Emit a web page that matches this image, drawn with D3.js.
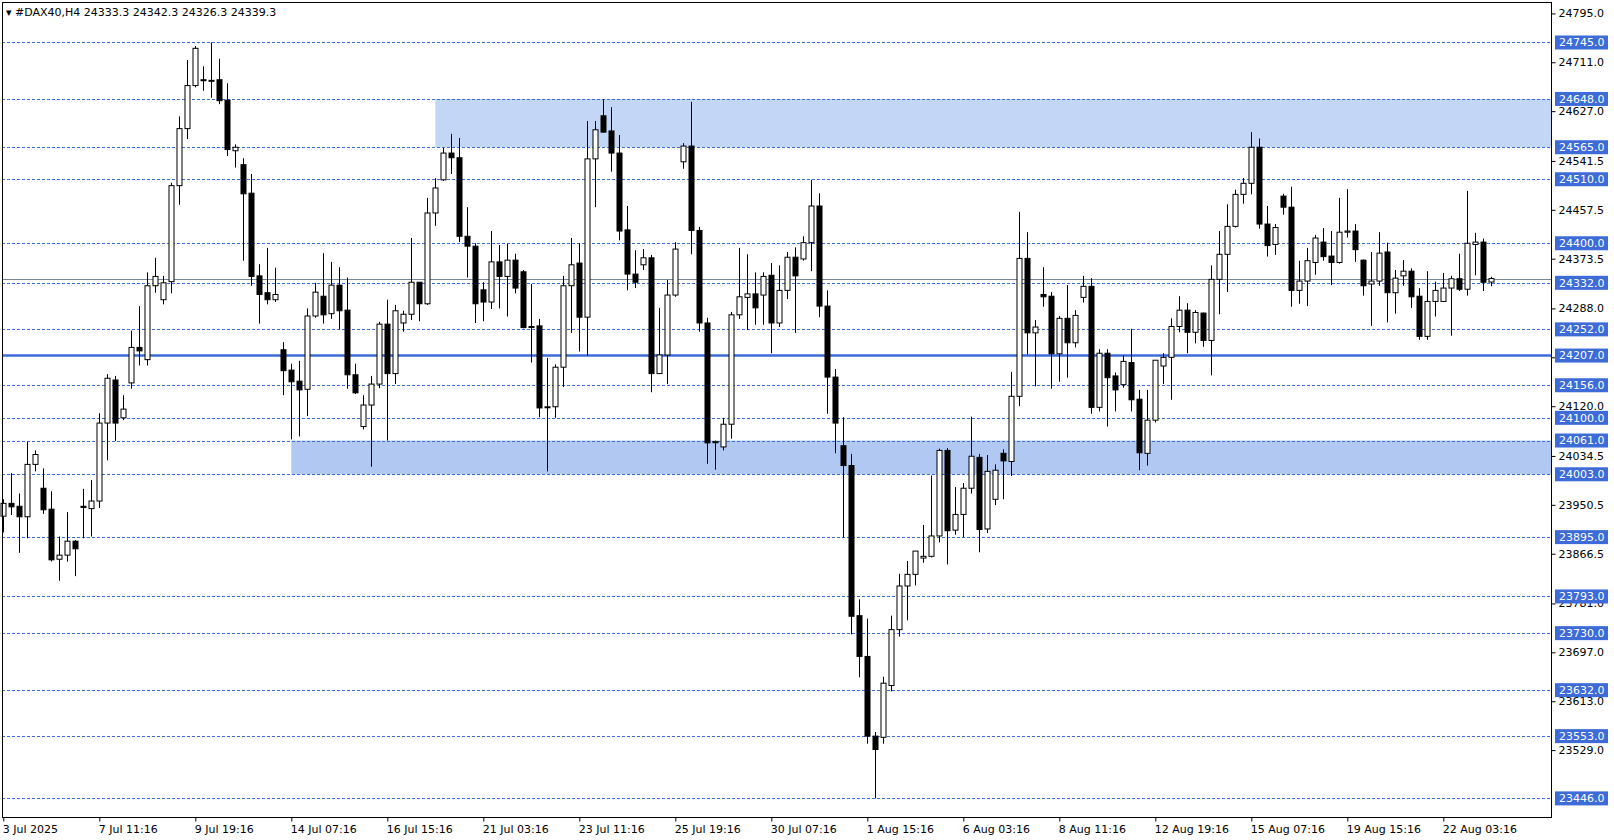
<!DOCTYPE html>
<html>
<head>
<meta charset="utf-8">
<script src="https://cdn.jsdelivr.net/npm/d3@7"></script>
<style>
  body { margin: 0; background: #fff; }
  text { font-family: "DejaVu Sans", sans-serif; font-size: 11px; }
</style>
</head>
<body>
<div id="chart"></div>
<script>
// DAX40 H4 candles (approx)
const opens = [23931,23953,23948,23930,24020,23979,23943,23857,23864,23888,23948,23944,23957,24091,24165,24100,24160,24221,24200,24327,
  24303,24334,24499,24597,24671,24681,24680,24681,24646,24559,24535,24486,24344,24315,24303,24217,24182,24163,24149,24275,
  24309,24279,24328,24285,24174,24085,24122,24158,24261,24176,24263,24278,24333,24296,24452,24509,24555,24547,24412,24395,
  24320,24299,24368,24343,24371,24351,24256,24258,24118,24119,24187,24327,24366,24273,24545,24619,24593,24555,24423,24347,
  24363,24375,24176,24208,24311,24540,24567,24422,24263,24058,24050,24089,24277,24307,24313,24311,24345,24263,24319,24376,
  24373,24401,24464,24292,24170,24052,24018,23760,23690,23553,23551,23640,23736,23811,23831,23859,23862,23897,24044,23907,
  23934,23979,24032,23909,23960,24039,24025,24137,24374,24246,24312,24309,24210,24271,24229,24307,24326,24118,24211,24172,
  24157,24195,24132,24039,24096,24189,24204,24257,24285,24247,24280,24233,24338,24381,24429,24484,24503,24565,24433,24398,
  24481,24462,24319,24335,24367,24402,24378,24367,24419,24421,24371,24330,24335,24385,24315,24344,24352,24309,24240,24300,
  24300,24323,24339,24321,24398,24402,24333.3];
const highs = [23960,24005,23970,24059,24044,24013,23974,23896,23938,23890,23978,23993,24108,24175,24172,24139,24250,24292,24350,24375,
  24344,24504,24618,24715,24739,24704,24745,24717,24675,24570,24546,24519,24364,24392,24358,24230,24193,24198,24288,24332,
  24383,24368,24359,24341,24193,24139,24172,24265,24303,24294,24284,24409,24333,24478,24512,24564,24588,24581,24462,24400,
  24333,24421,24397,24399,24382,24354,24330,24270,24203,24192,24344,24409,24400,24610,24610,24648,24634,24586,24464,24388,
  24390,24380,24289,24337,24402,24572,24643,24428,24272,24061,24100,24282,24392,24381,24350,24350,24366,24362,24385,24393,
  24412,24509,24486,24319,24184,24101,24038,23788,23755,23560,23655,23760,23832,23854,23871,23916,24001,24047,24048,23981,
  23988,24102,24038,24036,24020,24046,24179,24454,24419,24268,24359,24316,24275,24328,24285,24344,24340,24218,24218,24178,
  24207,24253,24148,24148,24199,24211,24271,24309,24297,24285,24281,24362,24421,24467,24492,24512,24591,24580,24464,24433,
  24485,24497,24370,24392,24414,24426,24421,24478,24493,24433,24372,24385,24419,24401,24354,24371,24357,24323,24352,24334,
  24349,24344,24382,24490,24418,24408,24342.3];
const lows = [23903,23933,23868,23893,24008,23935,23853,23820,23853,23828,23893,23896,23945,24027,24060,24096,24150,24190,24190,24315,
  24295,24314,24466,24579,24668,24662,24650,24639,24550,24530,24370,24327,24262,24295,24299,24139,24063,24068,24103,24272,
  24262,24270,24252,24150,24141,24080,24016,24151,24061,24158,24248,24268,24266,24294,24430,24507,24519,24402,24341,24263,
  24266,24287,24288,24274,24314,24254,24195,24101,24008,24100,24153,24246,24214,24207,24462,24590,24523,24405,24319,24323,
  24354,24144,24176,24158,24308,24528,24381,24248,24021,24011,24044,24064,24270,24251,24260,24260,24211,24256,24304,24246,
  24370,24352,24273,24107,24039,23894,23728,23654,23540,23446,23540,23630,23724,23752,23812,23851,23860,23886,23848,23899,
  23895,23970,23869,23902,23950,23960,24000,24120,24209,24154,24291,24150,24162,24169,24221,24298,24107,24111,24085,24111,
  24152,24111,24010,24018,24092,24158,24131,24247,24211,24228,24222,24173,24278,24316,24427,24468,24484,24425,24377,24380,
  24449,24291,24296,24292,24346,24370,24328,24365,24410,24368,24310,24258,24327,24264,24279,24327,24289,24234,24234,24274,
  24299,24241,24318,24310,24345,24318,24326.3];
const closes = [23953,23947,23930,24020,24037,23942,23856,23864,23888,23875,23946,23957,24091,24168,24091,24115,24221,24215,24327,24343,
  24332,24499,24597,24671,24735,24680,24680,24645,24561,24565,24485,24343,24312,24303,24312,24181,24162,24148,24275,24316,
  24277,24328,24284,24174,24143,24122,24158,24261,24176,24284,24278,24333,24296,24452,24495,24555,24547,24412,24395,24296,
  24299,24368,24343,24371,24323,24255,24257,24117,24119,24187,24327,24363,24273,24545,24595,24591,24555,24421,24347,24333,
  24375,24176,24208,24311,24390,24567,24422,24263,24057,24059,24089,24277,24308,24313,24289,24343,24263,24319,24376,24344,
  24401,24464,24292,24170,24091,24018,23759,23690,23553,23530,23644,23736,23811,23831,23871,23862,23897,24044,23906,23934,
  23979,24034,23908,24008,24010,24026,24137,24374,24246,24256,24308,24210,24271,24229,24276,24326,24118,24211,24169,24148,
  24197,24131,24040,24096,24199,24204,24257,24285,24247,24281,24233,24338,24381,24429,24484,24503,24565,24433,24396,24427,
  24462,24319,24335,24370,24409,24377,24367,24419,24421,24389,24327,24335,24383,24315,24340,24352,24308,24240,24300,24319,
  24323,24339,24321,24400,24402,24333,24339.3];

// horizontal levels drawn on the chart
const levels = [24745,24648,24565,24510,24400,24332,24252,24156,24100,24061,24003,23895,23793,23730,23632,23553,23446];
const mainLevel = 24207;
const zones = [{from: 24565, to: 24648, start: 54, color: "#c3d6f5"}, {from: 24003, to: 24061, start: 36, color: "#b0c8f2"}];
const axisTicks = [24795,24711,24627,24541.5,24457.5,24373.5,24288,24204,24120,24034.5,23950.5,23866.5,23781,23697,23613,23529];
const dateLabels = ["3 Jul 2025","7 Jul 11:16","9 Jul 19:16","14 Jul 07:16","16 Jul 15:16","21 Jul 03:16","23 Jul 11:16",
  "25 Jul 19:16","30 Jul 07:16","1 Aug 15:16","6 Aug 03:16","8 Aug 11:16","12 Aug 19:16","15 Aug 07:16","19 Aug 15:16","22 Aug 03:16"];
const lastPrice = 24339.3;

const width = 1614, height = 840;
const plot = {left: 2, right: 1551, top: 2, bottom: 817};
const blue = "#3d6bd8";

const svg = d3.select("#chart").append("svg").attr("width", width).attr("height", height);

const y = d3.scaleLinear().domain([23446, 24795]).range([798.4, 13.4]);
const x = d3.scaleLinear().domain([0, 186]).range([3.3, 1491.3]);

// zones
svg.selectAll(".zone").data(zones).enter().append("rect")
  .attr("x", d => x(d.start)).attr("width", d => plot.right - x(d.start))
  .attr("y", d => y(d.to)).attr("height", d => y(d.from) - y(d.to))
  .attr("fill", d => d.color);

// dashed levels
svg.selectAll(".lvl").data(levels).enter().append("line")
  .attr("x1", plot.left).attr("x2", plot.right)
  .attr("y1", d => Math.round(y(d)) + 0.5).attr("y2", d => Math.round(y(d)) + 0.5)
  .attr("stroke", blue).attr("stroke-dasharray", "3,2");

svg.append("line").attr("x1", plot.left).attr("x2", plot.right)
  .attr("y1", y(mainLevel)).attr("y2", y(mainLevel))
  .attr("stroke", blue).attr("stroke-width", 2.5);

svg.append("line").attr("x1", plot.left).attr("x2", plot.right)
  .attr("y1", Math.round(y(lastPrice)) + 0.5).attr("y2", Math.round(y(lastPrice)) + 0.5)
  .attr("stroke", "#778899");

// candles
const idx = d3.range(opens.length);
svg.selectAll(".wick").data(idx).enter().append("line")
  .attr("x1", i => Math.round(x(i)) + 0.5).attr("x2", i => Math.round(x(i)) + 0.5)
  .attr("y1", i => y(highs[i])).attr("y2", i => y(lows[i]))
  .attr("stroke", "#000");
svg.selectAll(".body").data(idx).enter().append("rect")
  .attr("x", i => Math.round(x(i)) - 2)
  .attr("width", 5)
  .attr("y", i => y(Math.max(opens[i], closes[i])))
  .attr("height", i => Math.max(1, Math.abs(y(opens[i]) - y(closes[i]))))
  .attr("fill", i => closes[i] >= opens[i] ? "#fff" : "#000")
  .attr("stroke", "#000").attr("stroke-width", 1);

// frame
svg.append("rect").attr("x", plot.left + 0.5).attr("y", plot.top + 0.5)
  .attr("width", plot.right - plot.left).attr("height", plot.bottom - plot.top)
  .attr("fill", "none").attr("stroke", "#000");

// right axis
const yAxis = svg.append("g").attr("transform", `translate(${plot.right + 0.5},0)`)
  .call(d3.axisRight(y).tickValues(axisTicks).tickSize(4).tickFormat(d3.format(".1f")));
yAxis.select(".domain").remove();
yAxis.selectAll("text").attr("x", 7).attr("fill", "#000");

// level labels
const lbl = svg.selectAll(".lbl").data(levels.concat([mainLevel])).enter().append("g")
  .attr("transform", d => `translate(${plot.right + 4},${y(d)})`);
lbl.append("rect").attr("x", 0).attr("y", -7).attr("width", 53).attr("height", 14).attr("fill", blue);
lbl.append("text").attr("x", 4).attr("dy", "0.35em").attr("fill", "#fff").text(d => d3.format(".1f")(d));

// bottom axis
const xAxis = svg.append("g").attr("transform", `translate(0,${plot.bottom + 0.5})`)
  .call(d3.axisBottom(x).tickValues(d3.range(dateLabels.length).map(k => k * 12)).tickSize(4)
    .tickFormat((d, k) => dateLabels[k]));
xAxis.select(".domain").remove();
xAxis.selectAll("text").attr("text-anchor", "start").attr("x", -1).attr("y", 8).attr("fill", "#000");

// title
svg.append("text").attr("x", 6).attr("y", 16).attr("fill", "#000")
  .text("▾ #DAX40,H4  24333.3 24342.3 24326.3 24339.3");
</script>
</body>
</html>
